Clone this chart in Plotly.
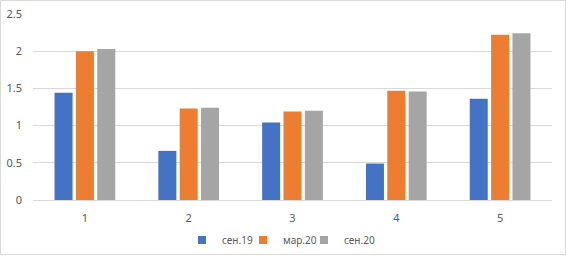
import plotly.graph_objects as go

categories = ["1", "2", "3", "4", "5"]
sen19 = [1.44, 0.66, 1.04, 0.49, 1.36]
mar20 = [2.00, 1.23, 1.19, 1.47, 2.22]
sen20 = [2.03, 1.24, 1.20, 1.46, 2.24]
series_names = ["сен.19", "мар.20", "сен.20"]
colors = ["#4472C4", "#ED7D31", "#A5A5A5"]
y_ticks = [0, 0.5, 1, 1.5, 2, 2.5]
y_tick_labels = ["0", "0.5", "1", "1.5", "2", "2.5"]

W, H = 566, 257
ML, MR, MT, MB = 33, 14, 14, 57
pw, ph = W - ML - MR, H - MT - MB

legend_ids = ["legend", "legend2", "legend3"]
legend_left_px = [182, 243, 304]

fig = go.Figure()
for name, vals, c in zip(series_names, [sen19, mar20, sen20], colors):
    fig.add_trace(go.Bar(x=categories, y=vals, name=name, marker_color=c,
                         marker_line_width=0, showlegend=False, legendgroup=name))
for name, c, lid in zip(series_names, colors, legend_ids):
    fig.add_trace(go.Scatter(x=[None], y=[None], mode="markers", name=name, legendgroup=name,
                             legend=lid,
                             marker=dict(symbol="square", size=8, color=c, line_width=0)))

def px_x(p):
    return (p - ML) / pw

def px_y(p):
    return (H - MB - p) / ph

fig.add_shape(type="rect", xref="paper", yref="paper",
              x0=px_x(0.5), x1=px_x(565.5), y0=px_y(254.5), y1=px_y(0.5),
              line=dict(color="#D9D9D9", width=1), fillcolor="rgba(0,0,0,0)", layer="below")

font = "Noto Sans, Open Sans, sans-serif"
legend_common = dict(orientation="h", xref="container", yref="container",
                     y=1 - 240 / H, xanchor="left", yanchor="middle",
                     font=dict(size=10, color="#595959"), itemwidth=30,
                     bgcolor="rgba(0,0,0,0)")
fig.update_layout(
    width=W, height=H,
    margin=dict(l=ML, r=MR, t=MT, b=MB, autoexpand=False),
    paper_bgcolor="white", plot_bgcolor="white",
    barmode="group", bargap=0.383, bargroupgap=0.156,
    font=dict(family=font, size=11, color="#595959"),
    showlegend=True,
    xaxis=dict(type="category", showgrid=False, showline=False, zeroline=False, automargin=False,
               ticks="", tickfont=dict(size=11, color="#595959"), ticklabelstandoff=10),
    yaxis=dict(range=[0, 2.5], tickvals=y_ticks, ticktext=y_tick_labels, automargin=False,
               showgrid=True, gridcolor="#D9D9D9", gridwidth=1,
               zeroline=True, zerolinecolor="#D9D9D9", zerolinewidth=1,
               showline=False, ticks="", ticklabelstandoff=10,
               tickfont=dict(size=11, color="#595959")),
)
for lid, lx in zip(legend_ids, legend_left_px):
    fig.update_layout({lid: dict(legend_common, x=lx / W)})

fig.write_html("out.html", config={"displayModeBar": False},
               post_script="document.body.style.margin='0';document.body.style.overflow='hidden';")
